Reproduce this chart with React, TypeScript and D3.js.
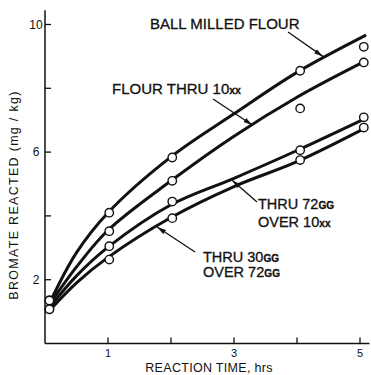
import { useEffect, useRef } from "react";
import * as d3 from "d3";

// measured points (circles)
const hours = [0.07, 1.02, 2.02, 4.05, 5.06];
const ballMilled = [1.35, 4.1, 5.83, 8.55, 9.3];
const flourThru10 = [1.35, 3.52, 5.1, 7.37, 8.81];
const thru72Over10 = [1.07, 3.05, 4.45, 6.06, 7.09];
const thru30Over72 = [1.07, 2.63, 3.93, 5.75, 6.77];

// smoothed curves as drawn
const curveHours = [0.08, 0.5, 1, 2, 3, 4, 5.08];
const ballMilledFit = [1.3, 2.85, 4.1, 5.85, 7.2, 8.5, 9.65];
const flourFit = [1.25, 2.4, 3.55, 5.1, 6.5, 7.72, 8.85];
const thru72Fit = [1.15, 2.12, 3.02, 4.35, 5.18, 6.05, 7.05];
const thru30Fit = [1.05, 1.9, 2.7, 3.95, 4.92, 5.7, 6.75];

const xTicks = [1, 2, 3, 4, 5];
const xTickLabels = ["1", "", "3", "", "5"];
const yTicks = [2, 4, 6, 8, 10];
const yTickLabels = ["2", "", "6", "", "10"];

const ink = "#111";
const font = "'Liberation Sans', Arial, sans-serif";

export default function App() {
  const ref = useRef<SVGSVGElement>(null);

  useEffect(() => {
    const svg = d3.select(ref.current);
    svg.selectAll("*").remove();

    const x = d3.scaleLinear().domain([0, 5]).range([45, 360]);
    const y = d3.scaleLinear().domain([0, 10]).range([343.5, 24.5]);

    svg.append("rect").attr("width", 371).attr("height", 375).attr("fill", "#fff");

    const defs = svg.append("defs");
    defs
      .append("marker")
      .attr("id", "arrow")
      .attr("markerUnits", "userSpaceOnUse")
      .attr("markerWidth", 9)
      .attr("markerHeight", 6)
      .attr("refX", 9)
      .attr("refY", 3)
      .attr("orient", "auto")
      .append("path")
      .attr("d", "M0,0.5 L9,3 L0,5.5 Z")
      .attr("fill", ink);

    // axes
    svg
      .append("line")
      .attr("x1", x(0))
      .attr("x2", x(0))
      .attr("y1", y(10.45))
      .attr("y2", y(0))
      .attr("stroke", ink)
      .attr("stroke-width", 1.5);
    svg
      .append("line")
      .attr("x1", x(0))
      .attr("x2", x(5.15))
      .attr("y1", y(0))
      .attr("y2", y(0))
      .attr("stroke", ink)
      .attr("stroke-width", 1.5);

    xTicks.forEach((t, i) => {
      svg
        .append("line")
        .attr("x1", x(t))
        .attr("x2", x(t))
        .attr("y1", y(0))
        .attr("y2", y(0) - 6)
        .attr("stroke", ink)
        .attr("stroke-width", 1.3);
      svg
        .append("text")
        .attr("x", x(t))
        .attr("y", 356.5)
        .attr("text-anchor", "middle")
        .style("font-family", font)
        .style("font-size", "11px")
        .attr("fill", ink)
        .text(xTickLabels[i]);
    });

    yTicks.forEach((t, i) => {
      svg
        .append("line")
        .attr("x1", x(0))
        .attr("x2", x(0) + 6)
        .attr("y1", y(t))
        .attr("y2", y(t))
        .attr("stroke", ink)
        .attr("stroke-width", 1.3);
      svg
        .append("text")
        .attr("x", 36)
        .attr("y", y(t))
        .attr("dy", "0.36em")
        .attr("text-anchor", "middle")
        .style("font-family", font)
        .style("font-size", "12px")
        .attr("fill", ink)
        .text(yTickLabels[i]);
    });

    svg
      .append("text")
      .attr("x", 209)
      .attr("y", 372)
      .attr("text-anchor", "middle")
      .style("font-family", font)
      .style("font-size", "12.5px")
      .style("letter-spacing", "0.3px")
      .attr("fill", ink)
      .text("REACTION TIME, hrs");

    svg
      .append("text")
      .attr("transform", "translate(17.5,195) rotate(-90)")
      .attr("text-anchor", "middle")
      .style("font-family", font)
      .style("font-size", "12.5px")
      .style("letter-spacing", "1.3px")
      .attr("fill", ink)
      .text("BROMATE REACTED (mg / kg)");

    // curves
    const line = d3
      .line<number>()
      .x((_, i) => x(curveHours[i]))
      .y((d) => y(d))
      .curve(d3.curveCatmullRom.alpha(0.5));
    [ballMilledFit, flourFit, thru72Fit, thru30Fit].forEach((s) => {
      svg
        .append("path")
        .attr("d", line(s))
        .attr("fill", "none")
        .attr("stroke", ink)
        .attr("stroke-width", 3)
        .attr("stroke-linecap", "round");
    });

    // measured points
    [ballMilled, flourThru10, thru72Over10, thru30Over72].forEach((s) => {
      svg
        .append("g")
        .selectAll("circle")
        .data(s)
        .enter()
        .append("circle")
        .attr("cx", (_, i) => x(hours[i]))
        .attr("cy", (d) => y(d))
        .attr("r", 4.2)
        .attr("fill", "#fff")
        .attr("stroke", ink)
        .attr("stroke-width", 1.4);
    });

    // leaders
    const leaders: [number, number, number, number][] = [
      [288, 32, 4.41, 9.0],
      [213, 99, 3.29, 6.85],
      [257, 202, 2.97, 5.12],
      [195, 252, 1.78, 3.65],
    ];
    leaders.forEach(([sx, sy, tx, ty]) => {
      svg
        .append("line")
        .attr("x1", sx)
        .attr("y1", sy)
        .attr("x2", x(tx))
        .attr("y2", y(ty))
        .attr("stroke", ink)
        .attr("stroke-width", 1.3)
        .attr("marker-end", "url(#arrow)");
    });

    // labels
    const label = (
      lx: number,
      ly: number,
      main: string,
      small: string,
      size: number
    ) => {
      const t = svg
        .append("text")
        .attr("x", lx)
        .attr("y", ly)
        .style("font-family", font)
        .style("font-size", `${size}px`)
        .attr("fill", ink)
        .attr("stroke", ink)
        .attr("stroke-width", 0.3);
      t.append("tspan").text(main);
      if (small) {
        t.append("tspan")
          .style("font-size", `${size * 0.7}px`)
          .style("font-weight", "bold")
          .text(small);
      }
    };
    label(150, 29, "BALL MILLED FLOUR", "", 15);
    label(112, 94, "FLOUR  THRU 10", "xx", 15);
    label(258, 209, "THRU 72", "GG", 14.5);
    label(258, 227, "OVER 10", "xx", 14.5);
    label(203, 262, "THRU 30", "GG", 14.5);
    label(203, 277, "OVER 72", "GG", 14.5);
  }, []);

  return (
    <div style={{ position: "absolute", left: 0, top: 0 }}>
      <svg ref={ref} width={371} height={375} style={{ display: "block" }} />
    </div>
  );
}
